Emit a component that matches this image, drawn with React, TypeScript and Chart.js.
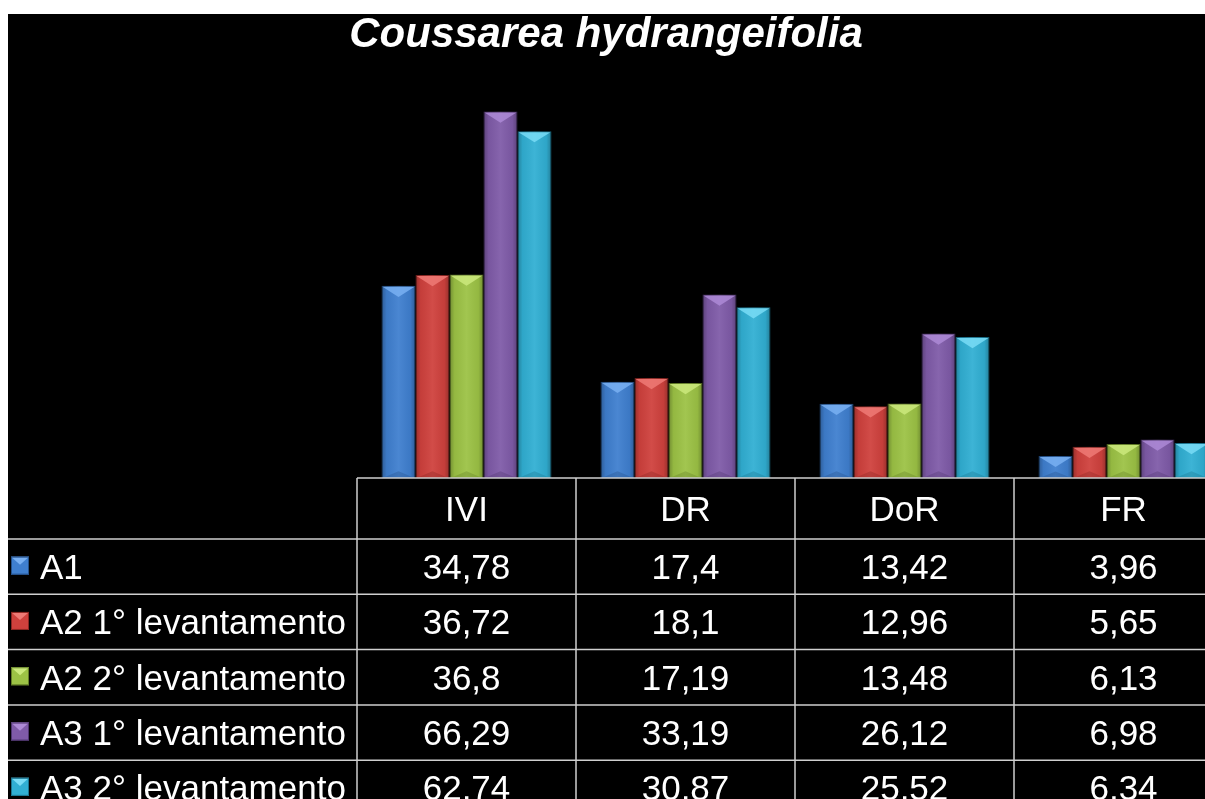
import React, { useEffect, useRef } from "react";
import { Chart, registerables } from "chart.js";

Chart.register(...registerables);

const chartTitle = "Coussarea hydrangeifolia";
const categories = ["IVI", "DR", "DoR", "FR"];
const seriesNames = [
  "A1",
  "A2 1° levantamento",
  "A2 2° levantamento",
  "A3 1° levantamento",
  "A3 2° levantamento",
];
const a1 = [34.78, 17.4, 13.42, 3.96];
const a2first = [36.72, 18.1, 12.96, 5.65];
const a2second = [36.8, 17.19, 13.48, 6.13];
const a3first = [66.29, 33.19, 26.12, 6.98];
const a3second = [62.74, 30.87, 25.52, 6.34];
const seriesValues = [a1, a2first, a2second, a3first, a3second];

const baseColors = ["#3f7fcf", "#cf413d", "#9cc245", "#7f5ba8", "#31afd3"];
const lightColors = ["#79b0f2", "#ee7a75", "#cbe97c", "#ad8ad6", "#79dcf6"];
const darkColors = ["#24518a", "#8a2622", "#627d26", "#4f3670", "#1b7590"];

const FONT = '"Liberation Sans", Arial, sans-serif';

const fmt = (v: number) => String(v).replace(".", ",");

const bevelPlugin = {
  id: "bevel",
  afterDatasetsDraw(chart: any) {
    const { ctx, chartArea } = chart;
    ctx.save();
    ctx.beginPath();
    ctx.rect(chartArea.left, chartArea.top, chartArea.right - chartArea.left, chartArea.bottom - chartArea.top);
    ctx.clip();
    chart.data.datasets.forEach((ds: any, di: number) => {
      const meta = chart.getDatasetMeta(di);
      meta.data.forEach((bar: any) => {
        const w = bar.width;
        const l = bar.x - w / 2;
        const r = bar.x + w / 2;
        const top = bar.y;
        const bottom = bar.base;
        const h = bottom - top;
        const d = Math.min(w * 0.33, h / 2);
        const g = ctx.createLinearGradient(l, 0, r, 0);
        g.addColorStop(0, "rgba(0,0,0,0.28)");
        g.addColorStop(0.15, "rgba(0,0,0,0.05)");
        g.addColorStop(0.5, "rgba(255,255,255,0.06)");
        g.addColorStop(0.85, "rgba(0,0,0,0.05)");
        g.addColorStop(1, "rgba(0,0,0,0.28)");
        ctx.fillStyle = g;
        ctx.fillRect(l, top, w, h);
        ctx.fillStyle = lightColors[di];
        ctx.globalAlpha = 0.85;
        ctx.beginPath();
        ctx.moveTo(l + 1, top + 1);
        ctx.lineTo(r - 1, top + 1);
        ctx.lineTo(bar.x, top + d);
        ctx.closePath();
        ctx.fill();
        ctx.fillStyle = darkColors[di];
        ctx.globalAlpha = 0.35;
        ctx.beginPath();
        ctx.moveTo(l + 1, bottom);
        ctx.lineTo(r - 1, bottom);
        ctx.lineTo(bar.x, bottom - d * 0.6);
        ctx.closePath();
        ctx.fill();
        ctx.globalAlpha = 1;
      });
    });
    ctx.restore();
  },
};

const tablePlugin = {
  id: "dataTable",
  afterDraw(chart: any) {
    const { ctx, chartArea, width, height } = chart;
    const n = categories.length;
    const catW = (chartArea.right - chartArea.left) / n;
    const top = chartArea.bottom;
    const headerH = 61;
    const rowH = 55.3;
    ctx.save();
    ctx.strokeStyle = "#cfcfcf";
    ctx.lineWidth = 1.5;
    ctx.beginPath();
    ctx.moveTo(chartArea.left, top);
    ctx.lineTo(width, top);
    ctx.stroke();
    for (let i = 0; i <= seriesNames.length; i++) {
      const y = top + headerH + i * rowH;
      ctx.beginPath();
      ctx.moveTo(0, y);
      ctx.lineTo(width, y);
      ctx.stroke();
    }
    for (let c = 0; c <= n; c++) {
      const x = chartArea.left + c * catW;
      ctx.beginPath();
      ctx.moveTo(x, top);
      ctx.lineTo(x, height);
      ctx.stroke();
    }
    const fs = 35;
    ctx.font = `${fs}px ${FONT}`;
    ctx.fillStyle = "#ffffff";
    ctx.textBaseline = "alphabetic";
    ctx.textAlign = "center";
    categories.forEach((c, i) => {
      const x = chart.scales.x.getPixelForValue(i);
      ctx.fillText(c, x, top + headerH / 2 + fs * 0.358);
    });
    seriesNames.forEach((name, r) => {
      const cy = top + headerH + r * rowH + rowH / 2;
      const by = cy + fs * 0.358;
      const ks = 18;
      const kx = 3;
      const ky = cy - ks / 2 - 1;
      ctx.fillStyle = baseColors[r];
      ctx.fillRect(kx, ky, ks, ks);
      ctx.fillStyle = lightColors[r];
      ctx.beginPath();
      ctx.moveTo(kx, ky);
      ctx.lineTo(kx + ks, ky);
      ctx.lineTo(kx + ks / 2, ky + ks * 0.45);
      ctx.closePath();
      ctx.fill();
      ctx.strokeStyle = darkColors[r];
      ctx.lineWidth = 1;
      ctx.strokeRect(kx + 0.5, ky + 0.5, ks - 1, ks - 1);
      ctx.fillStyle = "#ffffff";
      ctx.textAlign = "left";
      ctx.fillText(name, 32, by);
      ctx.textAlign = "center";
      seriesValues[r].forEach((v, i) => {
        const x = chart.scales.x.getPixelForValue(i);
        ctx.fillText(fmt(v), x, by);
      });
    });
    ctx.restore();
  },
};

const titlePlugin = {
  id: "customTitle",
  afterDraw(chart: any) {
    const { ctx } = chart;
    ctx.save();
    ctx.font = `italic bold 42px ${FONT}`;
    ctx.fillStyle = "#ffffff";
    ctx.textAlign = "center";
    ctx.textBaseline = "alphabetic";
    ctx.fillText(chartTitle, 598, 32.5);
    ctx.restore();
  },
};

export default function App() {
  const ref = useRef<HTMLCanvasElement | null>(null);
  useEffect(() => {
    if (!ref.current) return;
    const chart = new Chart(ref.current, {
      type: "bar",
      data: {
        labels: categories,
        datasets: seriesNames.map((name, i) => ({
          label: name,
          data: seriesValues[i],
          backgroundColor: baseColors[i],
          borderColor: darkColors[i],
          borderWidth: 1,
          categoryPercentage: 0.776,
          barPercentage: 1,
        })),
      },
      options: {
        animation: false,
        responsive: false,
        maintainAspectRatio: false,
        layout: { padding: { left: 349, right: 15, top: 77, bottom: 321 } },
        plugins: {
          legend: { display: false },
          title: { display: false },
          tooltip: { enabled: false },
        },
        scales: {
          x: { display: false, grid: { display: false } },
          y: { display: false, min: 0, max: 70, grid: { display: false } },
        },
      },
      plugins: [bevelPlugin, tablePlugin, titlePlugin],
    });
    return () => chart.destroy();
  }, []);
  return (
    <div
      style={{
        position: "absolute",
        left: 8,
        top: 14,
        width: 1197,
        height: 785,
        overflow: "hidden",
        background: "#000000",
      }}
    >
      <canvas ref={ref} width={1240} height={785} style={{ display: "block", width: 1240, height: 785 }} />
    </div>
  );
}
